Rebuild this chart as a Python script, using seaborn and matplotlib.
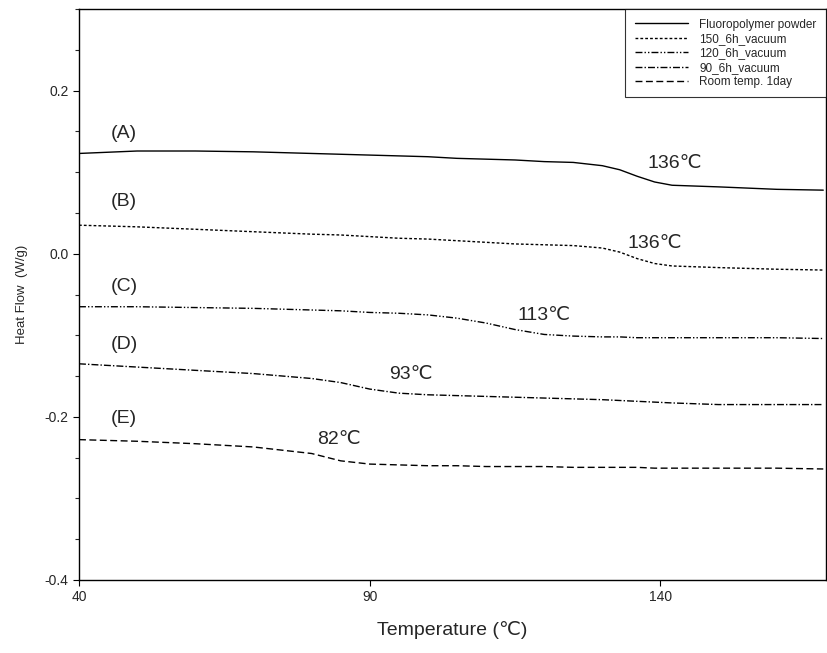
import matplotlib
matplotlib.use("Agg")
import matplotlib.pyplot as plt
from matplotlib.ticker import MultipleLocator
import seaborn as sns
import pandas as pd

sns.set_style("ticks")
plt.rcParams['font.family'] = ['Liberation Sans', 'DejaVu Sans']

# temperature grid (deg C), shared by all curves
temp = [40, 50, 60, 70, 80, 85, 90, 95, 100, 105, 110, 115, 120, 125,
        130, 133, 136, 139, 142, 146, 150, 160, 168]

# heat flow (W/g)
powder = [0.123, 0.126, 0.126, 0.125, 0.123, 0.122, 0.121, 0.120, 0.119, 0.117,
          0.116, 0.115, 0.113, 0.112, 0.108, 0.103, 0.095, 0.088, 0.084, 0.083,
          0.082, 0.079, 0.078]
vac150 = [0.035, 0.033, 0.030, 0.027, 0.024, 0.023, 0.021, 0.019, 0.018, 0.016,
          0.014, 0.012, 0.011, 0.010, 0.007, 0.002, -0.006, -0.012, -0.015, -0.016,
          -0.017, -0.019, -0.020]
vac120 = [-0.065, -0.065, -0.066, -0.067, -0.069, -0.070, -0.072, -0.073, -0.075, -0.079,
          -0.085, -0.093, -0.099, -0.101, -0.102, -0.102, -0.103, -0.103, -0.103, -0.103,
          -0.103, -0.103, -0.104]
vac90 = [-0.135, -0.139, -0.143, -0.147, -0.153, -0.158, -0.166, -0.171, -0.173, -0.174,
         -0.175, -0.176, -0.177, -0.178, -0.179, -0.180, -0.181, -0.182, -0.183, -0.184,
         -0.185, -0.185, -0.185]
room1d = [-0.228, -0.230, -0.233, -0.237, -0.245, -0.254, -0.258, -0.259, -0.260, -0.260,
          -0.261, -0.261, -0.261, -0.262, -0.262, -0.262, -0.262, -0.263, -0.263, -0.263,
          -0.263, -0.263, -0.264]

names = ["Fluoropolymer powder", "150_6h_vacuum", "120_6h_vacuum",
         "90_6h_vacuum", "Room temp. 1day"]
series = [powder, vac150, vac120, vac90, room1d]
styles = ["-", (0, (2, 1.5)), (0, (5, 1.5, 1, 1.5, 1, 1.5)),
          (0, (5, 1.5, 1, 1.5)), (0, (5, 2.5))]

letters = ["(A)", "(B)", "(C)", "(D)", "(E)"]
letter_y = [0.148, 0.064, -0.040, -0.111, -0.202]
tg_text = ["136\u2103", "136\u2103", "113\u2103", "93\u2103", "82\u2103"]
tg_x = [142.4, 139.0, 120.0, 97.0, 84.7]
tg_y = [0.111, 0.013, -0.076, -0.148, -0.228]

fig = plt.figure(figsize=(8.27, 6.53), dpi=100)
ax = fig.add_axes([0.0955, 0.112, 0.9035, 0.874])

for name, vals, ls in zip(names, series, styles):
    df = pd.DataFrame({"T": temp, "HF": vals})
    sns.lineplot(data=df, x="T", y="HF", ax=ax, color="black", lw=1.0,
                 linestyle=ls, label=name)

for t, y in zip(letters, letter_y):
    ax.text(45.5, y, t, fontsize=14, ha="left", va="center")
for t, x, y in zip(tg_text, tg_x, tg_y):
    ax.text(x, y, t, fontsize=14, ha="center", va="center")

ax.set_xlim(40, 168.5)
ax.set_ylim(-0.4, 0.3)
ax.set_xticks([40, 90, 140])
ax.set_yticks([-0.4, -0.2, 0.0, 0.2])
ax.set_yticklabels(["-0.4", "-0.2", "0.0", "0.2"])
ax.yaxis.set_minor_locator(MultipleLocator(0.05))
ax.tick_params(axis="both", which="major", labelsize=10, length=4, width=0.8, color="black")
ax.tick_params(axis="y", which="minor", length=3, width=0.8)

ax.set_xlabel("Temperature (\u2103)", fontsize=14, labelpad=12)
ax.set_ylabel("Heat Flow  (W/g)", fontsize=9.5, labelpad=12)

for sp in ax.spines.values():
    sp.set_color("black")
    sp.set_linewidth(1.0)

leg = ax.legend(loc="upper right", bbox_to_anchor=(1.0, 1.0), borderaxespad=0,
                fontsize=8.5, frameon=True, fancybox=False, edgecolor="black",
                handlelength=4.5, labelspacing=0.2, borderpad=0.8, handletextpad=1.0)
leg.get_frame().set_linewidth(0.8)

fig.savefig("out.png", dpi=100)
